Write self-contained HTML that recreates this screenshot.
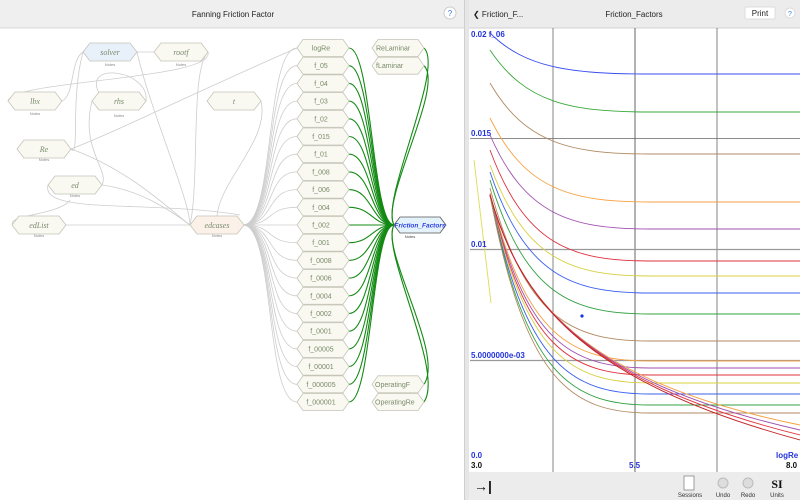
<!DOCTYPE html>
<html><head><meta charset="utf-8"><style>
html,body{margin:0;padding:0;width:800px;height:500px;overflow:hidden;background:#fff;font-family:"Liberation Sans",sans-serif}
svg{position:absolute;left:0;top:0}
</style></head><body>
<svg id="s" width="800" height="500" viewBox="0 0 800 500" xmlns="http://www.w3.org/2000/svg">
<defs>
<polygon id="hx" points="-26,0 -20,-8.5 20,-8.5 26,0 20,8.5 -20,8.5"/>
<polygon id="hs" points="-27,0 -20,-9 20,-9 27,0 20,9 -20,9"/>
</defs>
<rect x="0" y="0" width="465" height="28" fill="#efefef"/>
<line x1="0" y1="28" x2="465" y2="28" stroke="#d8d8d8"/>
<text x="233" y="17" font-size="8" text-anchor="middle" fill="#222">Fanning Friction Factor</text>
<circle cx="450" cy="13" r="6" fill="#fff" stroke="#ccc"/>
<text x="450" y="16" font-size="8" text-anchor="middle" fill="#3a7ee0">?</text>
<rect x="464" y="0" width="5" height="500" fill="#e6e6e6"/>
<line x1="464.5" y1="0" x2="464.5" y2="500" stroke="#cfcfcf"/>
<g id="gray" fill="none" stroke="#cdcdcd" stroke-width="0.8"></g>
<g id="green" fill="none" stroke="#138a13" stroke-width="1.1"></g>
<g fill="#f9f9f1" stroke="#c4c4b8" stroke-width="0.8" font-size="7" fill-opacity="1">
<g font-family="Liberation Serif,serif" font-style="italic" font-size="8">
<use href="#hs" x="110" y="52" fill="#e8f0fa"/><text x="110" y="55" text-anchor="middle" fill="#7a8a6e" stroke="none">solver</text>
<use href="#hs" x="181" y="52"/><text x="181" y="55" text-anchor="middle" fill="#7a8a6e" stroke="none">rootf</text>
<use href="#hs" x="35" y="101"/><text x="35" y="104" text-anchor="middle" fill="#7a8a6e" stroke="none">lbx</text>
<use href="#hs" x="119" y="101"/><text x="119" y="104" text-anchor="middle" fill="#7a8a6e" stroke="none">rhs</text>
<use href="#hs" x="234" y="101"/><text x="234" y="104" text-anchor="middle" fill="#7a8a6e" stroke="none">t</text>
<use href="#hs" x="44" y="149"/><text x="44" y="152" text-anchor="middle" fill="#7a8a6e" stroke="none">Re</text>
<use href="#hs" x="75" y="185"/><text x="75" y="188" text-anchor="middle" fill="#7a8a6e" stroke="none">ed</text>
<use href="#hs" x="39" y="225"/><text x="39" y="228" text-anchor="middle" fill="#7a8a6e" stroke="none">edList</text>
<use href="#hs" x="217" y="225" fill="#fbf1e8"/><text x="217" y="228" text-anchor="middle" fill="#7a8a6e" stroke="none">edcases</text>
</g>
<g font-size="4" fill="#888" stroke="none" text-anchor="middle">
<text x="110" y="66">Notes</text><text x="181" y="66">Notes</text><text x="35" y="115">Notes</text><text x="119" y="117">Notes</text><text x="44" y="161">Notes</text><text x="75" y="197">Notes</text><text x="39" y="237">Notes</text><text x="217" y="237">Notes</text><text x="410" y="238" fill="#444">Notes</text>
</g>
<g font-size="7">
<use href="#hx" x="323" y="48"/><use href="#hx" x="323" y="65.7"/><use href="#hx" x="323" y="83.4"/><use href="#hx" x="323" y="101.1"/><use href="#hx" x="323" y="118.8"/><use href="#hx" x="323" y="136.5"/><use href="#hx" x="323" y="154.2"/><use href="#hx" x="323" y="171.9"/><use href="#hx" x="323" y="189.6"/><use href="#hx" x="323" y="207.3"/><use href="#hx" x="323" y="225"/><use href="#hx" x="323" y="242.7"/><use href="#hx" x="323" y="260.4"/><use href="#hx" x="323" y="278.1"/><use href="#hx" x="323" y="295.8"/><use href="#hx" x="323" y="313.5"/><use href="#hx" x="323" y="331.2"/><use href="#hx" x="323" y="348.9"/><use href="#hx" x="323" y="366.6"/><use href="#hx" x="323" y="384.3"/><use href="#hx" x="323" y="402"/>
<use href="#hx" x="398" y="48"/><use href="#hx" x="398" y="65.7"/><use href="#hx" x="398" y="384.3"/><use href="#hx" x="398" y="402"/>
<g fill="#7a8a6a" stroke="none" text-anchor="middle">
<text x="321" y="50.5">logRe</text><text x="321" y="68.2">f_05</text><text x="321" y="85.9">f_04</text><text x="321" y="103.6">f_03</text><text x="321" y="121.3">f_02</text><text x="321" y="139">f_015</text><text x="321" y="156.7">f_01</text><text x="321" y="174.4">f_008</text><text x="321" y="192.1">f_006</text><text x="321" y="209.8">f_004</text><text x="321" y="227.5">f_002</text><text x="321" y="245.2">f_001</text><text x="321" y="262.9">f_0008</text><text x="321" y="280.6">f_0006</text><text x="321" y="298.3">f_0004</text><text x="321" y="316">f_0002</text><text x="321" y="333.7">f_0001</text><text x="321" y="351.4">f_00005</text><text x="321" y="369.1">f_00001</text><text x="321" y="386.8">f_000005</text><text x="321" y="404.5">f_000001</text>
</g>
<g fill="#7a8a6a" stroke="none">
<text x="376" y="50.5">ReLaminar</text><text x="376" y="68.2">fLaminar</text><text x="375" y="386.8">OperatingF</text><text x="375" y="404.5">OperatingRe</text>
</g>
<polygon points="394,225 400,217 440,217 446,225 440,233 400,233" fill="#e4f2fb" stroke="#555"/>
<text x="420" y="227.5" text-anchor="middle" font-size="6.5" font-style="italic" font-weight="bold" fill="#2a3de0" stroke="none">Friction_Factors</text>
</g>
</g>
<rect x="469" y="0" width="331" height="28" fill="#ececec"/>
<line x1="469" y1="28" x2="800" y2="28" stroke="#d0d0d0"/>
<text x="473" y="17" font-size="8" fill="#222">❮ Friction_F...</text>
<text x="634" y="17" font-size="8" text-anchor="middle" fill="#222">Friction_Factors</text>
<rect x="745" y="7" width="30" height="12" fill="#fff" stroke="#ddd" rx="1"/>
<text x="760" y="16" font-size="8" text-anchor="middle" fill="#222">Print</text>
<circle cx="790" cy="13" r="5" fill="#fff" stroke="#ddd"/>
<text x="790" y="16" font-size="7" text-anchor="middle" fill="#3a7ee0">?</text>
<g stroke="#666" stroke-width="0.8">
<line x1="553" y1="28" x2="553" y2="472"/><line x1="635" y1="28" x2="635" y2="472" stroke-width="1.3" stroke="#888"/><line x1="717" y1="28" x2="717" y2="472"/>
<line x1="470" y1="138.5" x2="800" y2="138.5"/><line x1="470" y1="249.5" x2="800" y2="249.5" stroke="#999" stroke-width="1.2"/><line x1="470" y1="360.5" x2="800" y2="360.5" stroke="#999" stroke-width="1.2"/>
</g>
<g id="curves" fill="none" stroke-width="0.9"></g>
<line x1="474" y1="160" x2="491" y2="303" stroke="#dddd50" stroke-width="0.9"/>
<circle cx="582" cy="316" r="1.6" fill="#1a33e0"/>
<g font-size="8" font-weight="bold" fill="#2233dd">
<text x="471" y="37">0.02 f_06</text><text x="471" y="136">0.015</text><text x="471" y="247">0.01</text><text x="471" y="358">5.0000000e-03</text><text x="471" y="458">0.0</text><text x="629" y="468">5.5</text><text x="776" y="458">logRe</text>
</g>
<g font-size="8" font-weight="bold" fill="#111"><text x="471" y="468">3.0</text><text x="786" y="468">8.0</text></g>
<rect x="469" y="472" width="331" height="28" fill="#ececec"/>
<text x="474" y="491" font-size="14" font-weight="bold" fill="#111">→|</text>
<rect x="684" y="476" width="10" height="14" fill="#fff" stroke="#777" stroke-width="0.7"/>
<text x="690" y="497" font-size="6" text-anchor="middle" fill="#333">Sessions</text>
<circle cx="723" cy="483" r="5" fill="#ddd" stroke="#bbb"/><text x="723" y="497" font-size="6" text-anchor="middle" fill="#333">Undo</text>
<circle cx="748" cy="483" r="5" fill="#ddd" stroke="#bbb"/><text x="748" y="497" font-size="6" text-anchor="middle" fill="#333">Redo</text>
<text x="777" y="488" font-size="12" font-weight="bold" font-family="Liberation Serif,serif" text-anchor="middle" fill="#111">SI</text>
<text x="777" y="497" font-size="6" text-anchor="middle" fill="#333">Units</text>
</svg>
<script>
var NS="http://www.w3.org/2000/svg";
function P(g,d,c,w){var p=document.createElementNS(NS,"path");p.setAttribute("d",d);if(c)p.setAttribute("stroke",c);if(w)p.setAttribute("stroke-width",w);document.getElementById(g).appendChild(p);}
var rows=[];for(var i=0;i<21;i++)rows.push(48+i*17.7);
rows.forEach(function(y){P("gray","M243,225 C275,225 265,"+y+" 297,"+y);P("green","M349,"+y+" C372,"+y+" 372,225 394,225");});
[48,65.7].forEach(function(y){P("green","M424,"+y+" C445,"+(y+20)+" 380,200 394,225");});
[384.3,402].forEach(function(y){P("green","M424,"+y+" C445,"+(y-30)+" 380,250 394,225");});
["M137,52 L155,52","M83,52 C70,60 75,95 62,101","M208,52 C215,80 10,80 8,101","M83,52 C70,100 80,160 71,149","M137,52 C150,110 190,200 190,225","M92,101 C80,150 110,170 102,185","M146,101 C150,70 80,60 100,95","M71,149 C120,130 200,90 297,48","M71,149 C130,170 170,210 190,225","M102,185 C140,190 170,210 190,225","M48,185 C40,215 150,200 240,215","M66,225 L190,225","M208,52 C190,70 200,180 190,225","M261,101 C270,140 220,180 217,216","M13,225 C5,215 60,215 70,200"].forEach(function(d){P("gray",d);});
var cs=[[33,74,"#3a4ef0"],[50,112,"#3aa83a"],[83,154,"#b08a60"],[118,202,"#f5a040"],[135,229,"#a050b0"],[150,261,"#e03040"],[165,276,"#d8d040"],[172,293,"#3a60f0"],[180,314,"#30a040"],[188,341,"#b08a60"],[193,361,"#f5a040"],[194,368,"#a050b0"],[195,375,"#e03040"],[195,383,"#d8d040"],[195,394,"#3a60f0"],[195,405,"#30a040"],[195,413,"#b08a60"]];
cs.forEach(function(c){var y0=c[0],yi=c[1];P("curves","M490,"+y0+" C525,"+(y0+(yi-y0)*0.85)+" 570,"+yi+" 650,"+yi+" L800,"+yi,c[2]);});
[["#f5a040",425],["#a050b0",430],["#e03040",435],["#c02020",440]].forEach(function(c){P("curves","M490,195 C520,300 580,380 800,"+c[1],c[0]);});
</script>
</body></html>
